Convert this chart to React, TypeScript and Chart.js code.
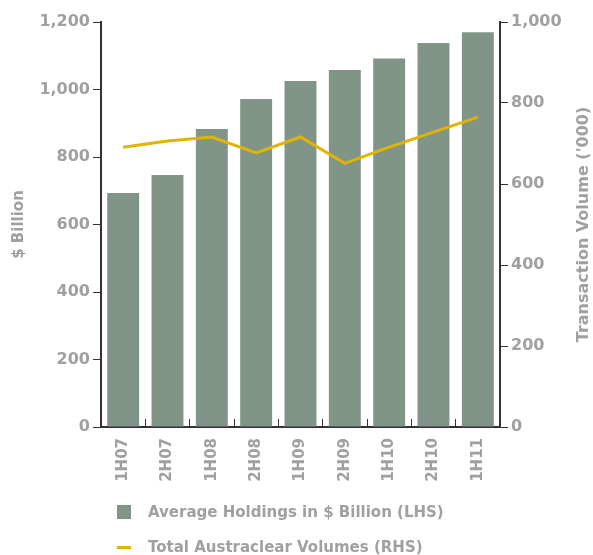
import React, { useEffect, useRef } from "react";
import { Chart, registerables } from "chart.js";

Chart.register(...registerables);

const categories = ["1H07", "2H07", "1H08", "2H08", "1H09", "2H09", "1H10", "2H10", "1H11"];
const holdings = [693, 747, 883, 972, 1025, 1058, 1092, 1138, 1170];
const volumes = [691, 706, 716, 677, 716, 651, 691, 728, 765];
const leftTicks = [0, 200, 400, 600, 800, 1000, 1200];
const rightTicks = [0, 200, 400, 600, 800, 1000];
const holdingsLabel = "Average Holdings in $ Billion (LHS)";
const volumesLabel = "Total Austraclear Volumes (RHS)";
const leftTitle = "$ Billion";
const rightTitle = "Transaction Volume ('000)";

const BAR = "#809487";
const LINE = "#e0b400";
const TEXT = "#a0a0a0";
const AXIS = "#333333";
const FONT = "'DejaVu Sans', sans-serif";

const fmt = (v: number) => v.toLocaleString("en-US");

const extrasPlugin = {
  id: "extras",
  afterDraw(chart: any) {
    const ctx = chart.ctx;
    const area = chart.chartArea;
    ctx.save();
    // right axis title
    ctx.fillStyle = TEXT;
    ctx.font = `bold 16px ${FONT}`;
    ctx.textAlign = "center";
    ctx.textBaseline = "middle";
    ctx.translate(584, (area.top + area.bottom) / 2);
    ctx.rotate(-Math.PI / 2);
    ctx.fillText(rightTitle, 0, 0);
    ctx.restore();

    // legend
    ctx.save();
    const ds = chart.data.datasets;
    ctx.fillStyle = ds[0].backgroundColor;
    ctx.fillRect(117, 505, 14, 14);
    ctx.strokeStyle = ds[1].borderColor;
    ctx.lineWidth = 3;
    ctx.beginPath();
    ctx.moveTo(117, 547.5);
    ctx.lineTo(131, 547.5);
    ctx.stroke();
    ctx.fillStyle = TEXT;
    ctx.font = `bold 15px ${FONT}`;
    ctx.textAlign = "left";
    ctx.textBaseline = "middle";
    ctx.fillText(ds[0].label, 148, 513);
    ctx.fillText(ds[1].label, 148, 548);
    ctx.restore();
  },
};

export default function App() {
  const ref = useRef<HTMLCanvasElement | null>(null);
  useEffect(() => {
    if (!ref.current) return;
    const chart = new Chart(ref.current, {
      type: "bar",
      data: {
        labels: categories,
        datasets: [
          {
            type: "bar",
            label: holdingsLabel,
            data: holdings,
            backgroundColor: BAR,
            yAxisID: "y",
            barPercentage: 0.72,
            categoryPercentage: 1,
            order: 2,
          },
          {
            type: "line",
            label: volumesLabel,
            data: volumes,
            borderColor: LINE,
            backgroundColor: LINE,
            borderWidth: 3,
            pointRadius: 0,
            tension: 0,
            yAxisID: "y1",
            order: 1,
          } as any,
        ],
      },
      options: {
        animation: false,
        responsive: false,
        maintainAspectRatio: false,
        layout: { padding: { top: 22, left: 0, right: 0, bottom: 53 } },
        plugins: { legend: { display: false }, tooltip: { enabled: false } },
        scales: {
          x: {
            grid: {
              display: true,
              drawOnChartArea: false,
              drawTicks: true,
              tickLength: -8,
              color: AXIS,
              offset: true,
            },
            border: { display: true, color: AXIS, width: 2 },
            ticks: {
              color: TEXT,
              font: { family: FONT, size: 15, weight: "bold" },
              minRotation: 90,
              maxRotation: 90,
              padding: 19,
              autoSkip: false,
            },
            afterFit: (s: any) => {
              s.height = 75;
            },
          },
          y: {
            position: "left",
            min: 0,
            max: 1200,
            afterBuildTicks: (s: any) => {
              s.ticks = leftTicks.map((v) => ({ value: v }));
            },
            grid: { drawOnChartArea: false, drawTicks: true, tickLength: 8, color: AXIS },
            border: { display: true, color: AXIS, width: 2 },
            ticks: {
              color: TEXT,
              font: { family: FONT, size: 16, weight: "bold" },
              padding: 3,
              callback: (v: any) => fmt(Number(v)),
            },
            title: {
              display: true,
              text: leftTitle,
              color: TEXT,
              font: { family: FONT, size: 15, weight: "bold" },
              padding: { top: 10, bottom: 0 },
            },
            afterFit: (s: any) => {
              s.width = 101;
            },
          },
          y1: {
            position: "right",
            min: 0,
            max: 1000,
            afterBuildTicks: (s: any) => {
              s.ticks = rightTicks.map((v) => ({ value: v }));
            },
            grid: { drawOnChartArea: false, drawTicks: true, tickLength: 8, color: AXIS },
            border: { display: true, color: AXIS, width: 2 },
            ticks: {
              color: TEXT,
              font: { family: FONT, size: 16, weight: "bold" },
              padding: 3,
              callback: (v: any) => fmt(Number(v)),
            },
            afterFit: (s: any) => {
              s.width = 93;
            },
          },
        },
      },
      plugins: [extrasPlugin],
    });
    return () => chart.destroy();
  }, []);
  return (
    <div style={{ position: "fixed", left: 0, top: 0, width: 593, height: 555, background: "#fff" }}>
      <canvas ref={ref} width={593} height={555} style={{ width: 593, height: 555, display: "block" }} />
    </div>
  );
}
